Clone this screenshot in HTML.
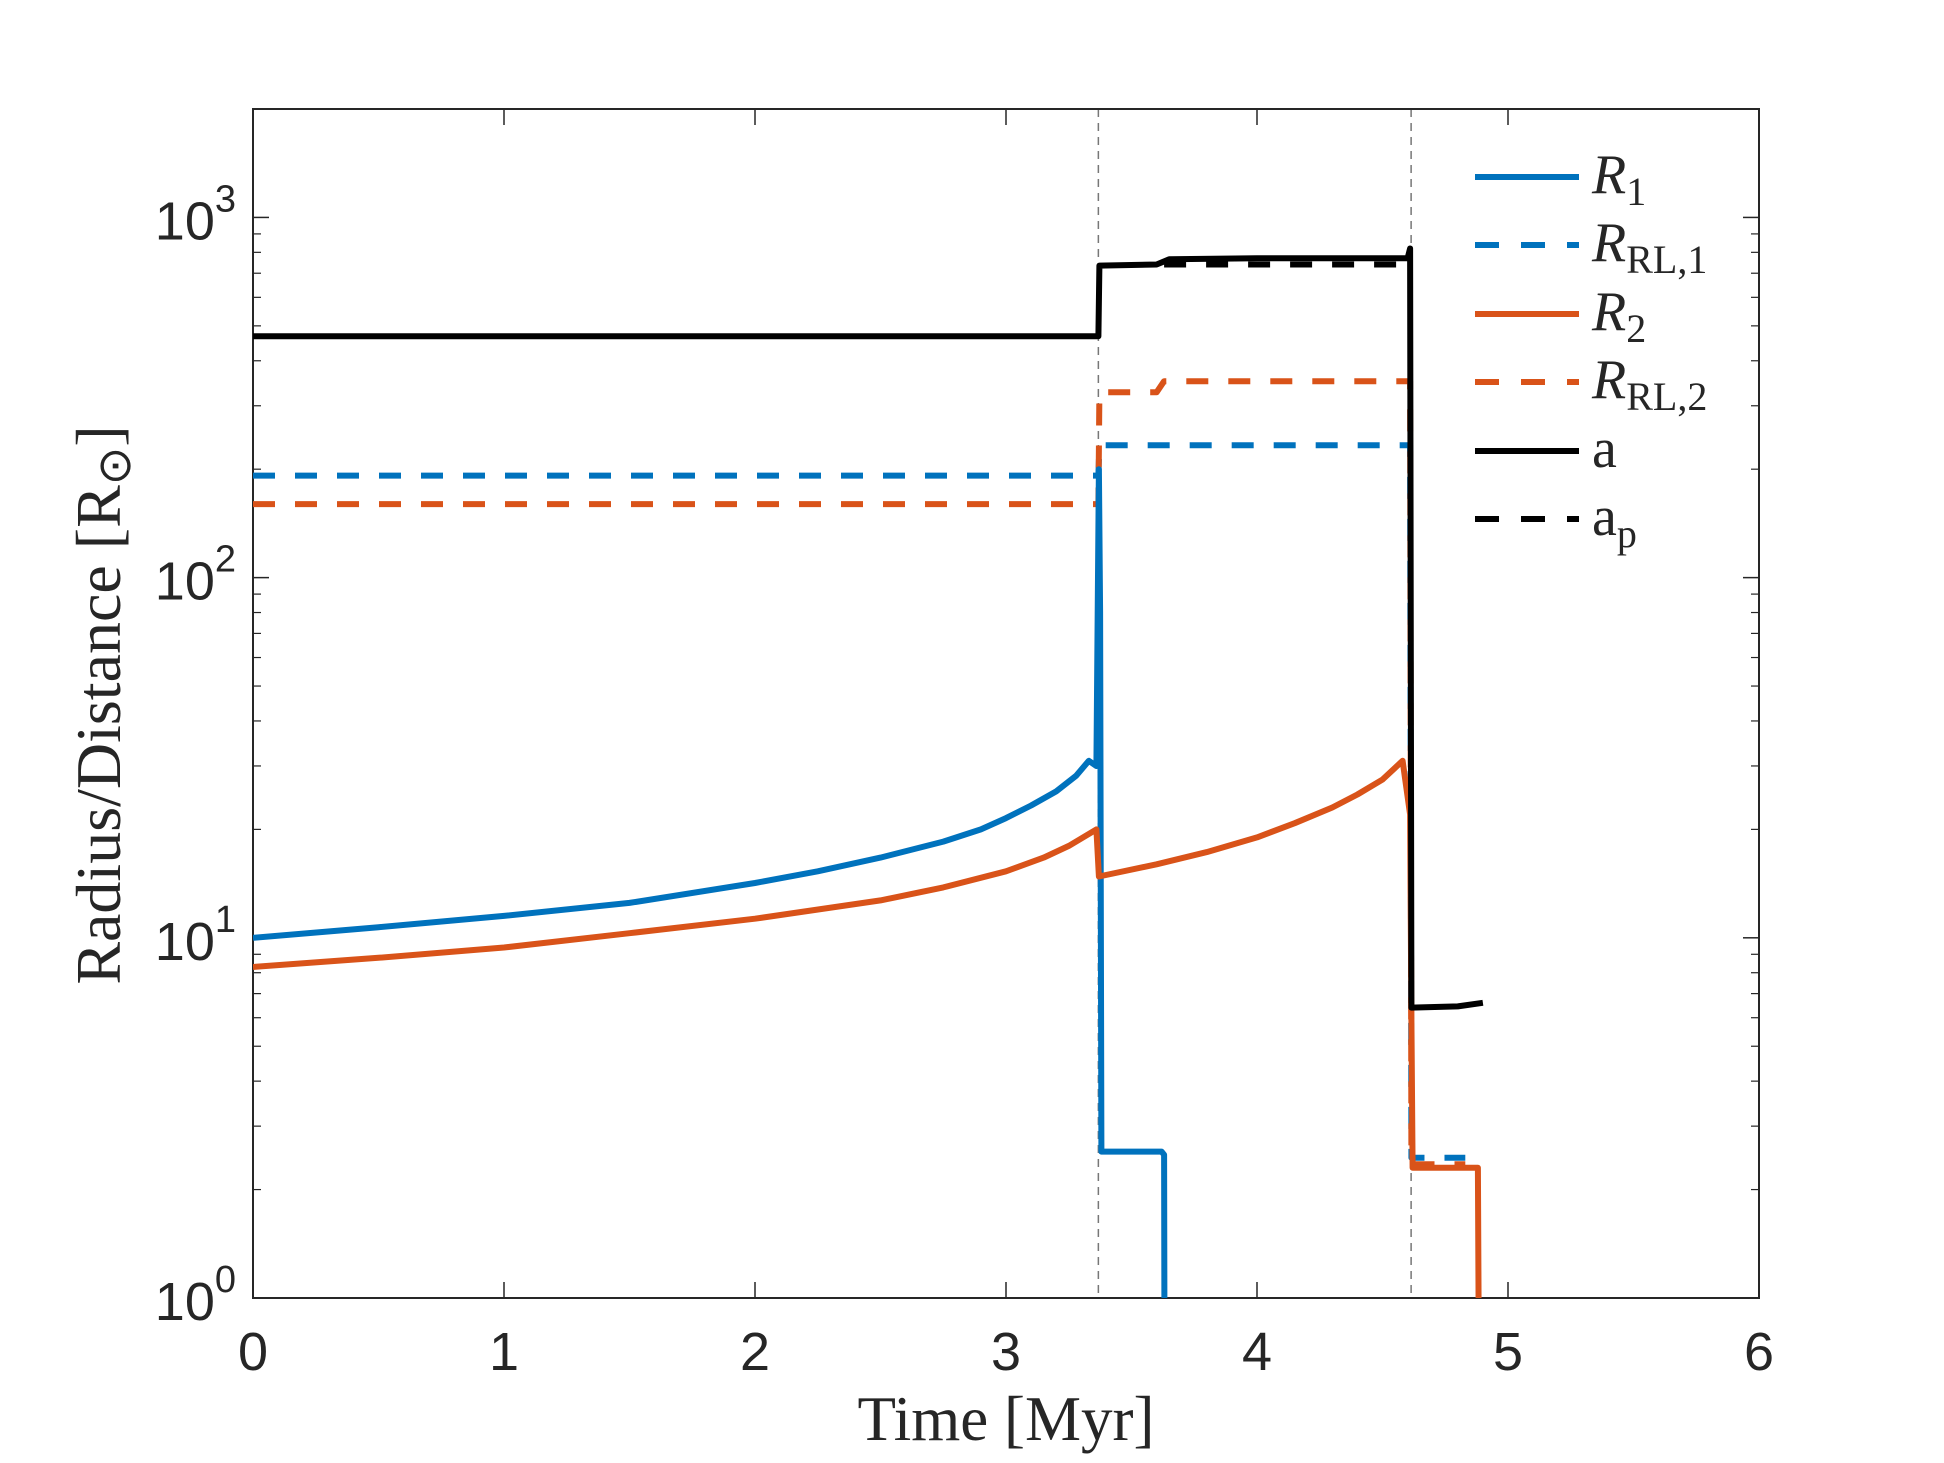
<!DOCTYPE html>
<html><head><meta charset="utf-8"><style>
body{margin:0;background:#fff}
svg text{fill:#262626}
</style></head><body>
<svg id="chart" width="1944" height="1458" xmlns="http://www.w3.org/2000/svg">
<defs><clipPath id="clip"><rect x="253" y="109" width="1506" height="1189"/></clipPath></defs>
<rect width="1944" height="1458" fill="#fff"/>
<g id="axes"></g>
<g id="series" clip-path="url(#clip)"></g>
<g id="legend"></g>
</svg>
<script>
const xTicks=[0,1,2,3,4,5,6];
const yDecades=[0,1,2,3];
const eventTimes=[3.368,4.614];
const r1T=[0,0.5,1,1.5,2,2.25,2.5,2.75,2.9,3.0,3.1,3.2,3.28,3.33,3.36,3.37,3.375,3.38,3.62,3.63,3.632];
const r1V=[10,10.7,11.5,12.5,14.2,15.3,16.7,18.5,20,21.5,23.3,25.5,28.2,31,30,200,80,2.55,2.55,2.5,0.5];
const r2T=[0,0.5,1,1.5,2,2.5,2.75,3,3.15,3.25,3.36,3.37,3.6,3.8,4.0,4.15,4.3,4.4,4.5,4.58,4.61,4.615,4.62,4.88,4.885];
const r2V=[8.3,8.8,9.4,10.3,11.3,12.7,13.8,15.3,16.7,18,20,14.8,16,17.3,19,20.8,23,25,27.5,31,22,6,2.3,2.3,0.5];
const rl1T=[0,3.368,3.372,4.61,4.615,4.83];
const rl1V=[192,192,233,233,2.45,2.45];
const rl2T=[0,3.368,3.372,3.6,3.63,4.61,4.615,4.83];
const rl2V=[160,160,327,327,351,351,2.35,2.35];
const aT=[0,3.368,3.372,3.6,3.65,4.0,4.6,4.61,4.615,4.8,4.9];
const aV=[468,468,735,740,765,770,770,820,6.4,6.45,6.6];
const apT=[3.63,4.61];
const apV=[740,740];
const X0=253,X1=1759,Y0=1298,Y1=109;
const xs=t=>X0+(t-0)/6*(X1-X0);
const ys=v=>Y0-Math.log10(v)/Math.log10(2000)*(Y0-Y1);
const NS='http://www.w3.org/2000/svg';
function mk(tag,attrs,parent){const e=document.createElementNS(NS,tag);for(const k in attrs)e.setAttribute(k,attrs[k]);parent.appendChild(e);return e;}
const ax=document.getElementById('axes'),se=document.getElementById('series'),lg=document.getElementById('legend');
eventTimes.forEach(t=>{const l=mk('line',{x1:xs(t),x2:xs(t),y1:Y1,y2:Y0,stroke:'#777','stroke-width':1.5,'stroke-dasharray':'8,6'},ax);

});
const box=mk('rect',{x:X0,y:Y1,width:X1-X0,height:Y0-Y1,fill:'none',stroke:'#262626','stroke-width':2},ax);


xTicks.forEach(t=>{const x=xs(t);
mk('line',{x1:x,x2:x,y1:Y0,y2:Y0-16,stroke:'#262626','stroke-width':1.5},ax);
mk('line',{x1:x,x2:x,y1:Y1,y2:Y1+16,stroke:'#262626','stroke-width':1.5},ax);
const tx=mk('text',{x:x,y:1370,'text-anchor':'middle','font-family':'Liberation Sans, sans-serif','font-size':54},ax);tx.textContent=t;

});
yDecades.forEach(d=>{const y=ys(Math.pow(10,d));
mk('line',{x1:X0,x2:X0+16,y1:y,y2:y,stroke:'#262626','stroke-width':1.5},ax);
mk('line',{x1:X1,x2:X1-16,y1:y,y2:y,stroke:'#262626','stroke-width':1.5},ax);
for(let m=2;m<=9;m++){const v=m*Math.pow(10,d);if(v>2000)break;const yy=ys(v);
mk('line',{x1:X0,x2:X0+8,y1:yy,y2:yy,stroke:'#262626','stroke-width':1.2},ax);
mk('line',{x1:X1,x2:X1-8,y1:yy,y2:yy,stroke:'#262626','stroke-width':1.2},ax);}
const tx=mk('text',{x:236,y:y+22,'text-anchor':'end','font-family':'Liberation Sans, sans-serif','font-size':54},ax);
tx.textContent='10';const sp=mk('tspan',{dy:-28,'font-size':38},tx);sp.textContent=d;

});
const xl=mk('text',{x:1006,y:1440,'text-anchor':'middle','font-family':'Liberation Serif, serif','font-size':63},ax);xl.textContent='Time [Myr]';


const yl=mk('text',{x:0,y:0,transform:'translate(120,705) rotate(-90)','text-anchor':'middle','font-family':'Liberation Serif, serif','font-size':64},ax);yl.textContent='Radius/Distance [R';
const ysb=mk('tspan',{'font-size':46,dy:10},yl);ysb.textContent='⊙';const yc=mk('tspan',{dy:-10},yl);yc.textContent=']';


const BLUE='#0072BD',ORG='#D95319',BLK='#000';
function line(T,V,col,dash,name){const d=T.map((t,i)=>(i?'L':'M')+xs(t).toFixed(1)+','+ys(V[i]).toFixed(1)).join('');
const p=mk('path',{d:d,fill:'none',stroke:col,'stroke-width':6,'stroke-dasharray':dash?'22,20':'none','stroke-linejoin':'round'},se);

}
line(rl1T,rl1V,BLUE,true,'r-rl1-line');
line(rl2T,rl2V,ORG,true,'r-rl2-line');
line(r1T,r1V,BLUE,false,'r1-line');
line(r2T,r2V,ORG,false,'r2-line');
line(aT,aV,BLK,false,'a-line');
line(apT,apV,BLK,true,'ap-line');
const items=[['R','1',BLUE,false,true],['R','RL,1',BLUE,true,true],['R','2',ORG,false,true],['R','RL,2',ORG,true,true],['a','',BLK,false,false],['a','p',BLK,true,false]];
const rowsY=[177,245,314,382,451,519];
items.forEach((it,i)=>{const y=rowsY[i];
const g=mk('g',{},lg);


mk('line',{x1:1475,x2:1579,y1:y,y2:y,stroke:it[2],'stroke-width':6,'stroke-dasharray':it[3]?'24,22':'none'},g);
const t=mk('text',{x:1592,y:y+16,'font-family':'Liberation Serif, serif','font-size':56,fill:'#000','font-style':it[4]?'italic':'normal'},g);
t.textContent=it[0];
if(it[1]){const s=mk('tspan',{dy:12,'font-size':40,'font-style':'normal'},t);s.textContent=it[1];}});
</script>
</body></html>
